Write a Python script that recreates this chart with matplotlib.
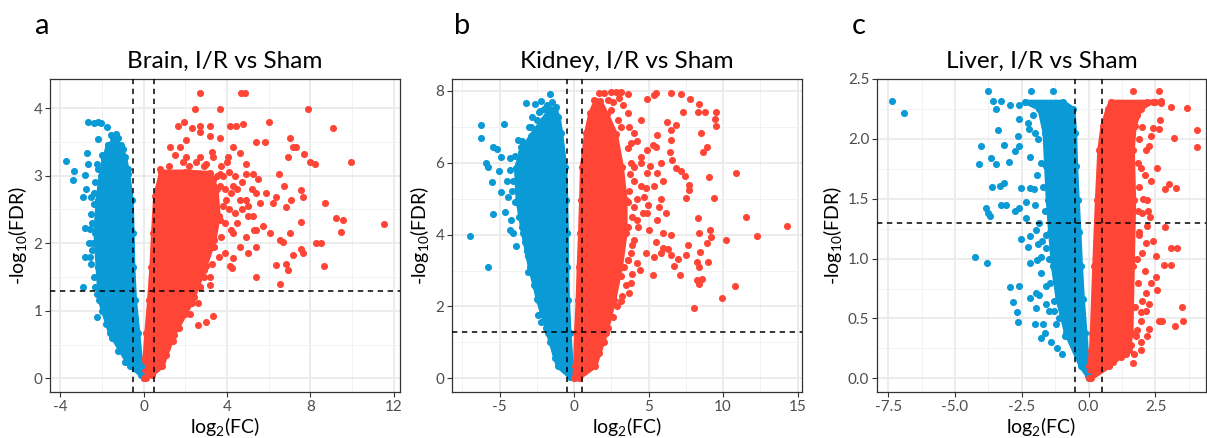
import numpy as np
import matplotlib
matplotlib.use("Agg")
import matplotlib.pyplot as plt
from matplotlib.ticker import FixedLocator

plt.rcParams['font.family'] = ['Lato', 'DejaVu Sans']
plt.rcParams['mathtext.fontset'] = 'custom'
plt.rcParams['mathtext.rm'] = 'Lato'
plt.rcParams['mathtext.default'] = 'regular'
plt.rcParams['axes.unicode_minus'] = False

BLUE = '#0A9AD6'
RED = '#FF4536'

# ---------------- Brain (a) ----------------
# dense cores (outline) + single genes outside
a_blue_env_x = [0.0, -0.1, -0.65, -1.6, -2.1, -2.2, -2.3, -2.2, -2.05, -1.9, -1.7, -1.4,
                -1.1, -0.89, -0.73, -0.57, -0.52, -0.49, -0.41, -0.25, -0.1]
a_blue_env_y = [0.0, 0.05, 0.18, 0.67, 1.16, 1.65, 2.15, 2.64, 3.0, 3.25, 3.45, 3.52,
                3.45, 3.28, 3.03, 2.64, 2.15, 1.65, 1.16, 0.67, 0.18]
a_red_env_x = [0.0, 0.05, 0.14, 0.27, 0.38, 0.46, 0.56, 0.85, 2.0, 3.2, 3.5, 3.6, 3.4,
               2.9, 2.3, 1.45, 0.9, 0.4, 0.1]
a_red_env_y = [0.0, 0.3, 0.67, 1.16, 1.65, 2.15, 2.7, 3.06, 3.06, 3.04, 2.8, 2.4, 2.05,
               1.6, 1.12, 0.64, 0.18, 0.05, 0.0]
a_blue_x = [-3.73, -3.33, -3.4, -2.65, -2.2, -2.36, -2.06, -1.77, -2.17, -1.45, -1.21, -2.73,
            -2.65, -2.25, -2.81, -2.76, -2.9, -2.5, -2.81, -2.57, -2.81, -2.54, -2.92, -2.33,
            -2.15, -2.22, -2.36, -2.5, -2.1,
            -2.4, -2.45, -2.35, -2.25, -2.0, -1.8, -1.5, -1.2, -0.9, -2.3, -2.2, -2.0, -1.7,
            -1.3, -1.0, -0.75, -2.6, -2.5, -1.55, -1.35, -2.35, -2.45]
a_blue_y = [3.22, 3.07, 2.94, 3.8, 3.8, 3.78, 3.78, 3.72, 3.54, 3.55, 3.55, 3.34,
            3.17, 3.18, 3.01, 2.81, 2.68, 2.69, 2.22, 2.21, 1.79, 1.8, 1.35, 1.36,
            1.16, 0.91, 2.58, 2.44, 2.48,
            2.0, 2.3, 1.5, 1.25, 1.0, 0.8, 0.6, 0.4, 0.25, 2.9, 3.1, 3.3, 3.45,
            3.62, 3.4, 3.1, 2.0, 1.7, 3.6, 3.48, 2.75, 1.9]
a_red_x = [2.71, 4.66, 4.85, 2.46, 3.65, 7.86, 1.96, 1.63, 2.3, 2.7, 3.17, 4.13, 4.45, 4.77,
           6.01, 9.1, 7.0, 7.16, 7.32, 5.41, 5.8, 7.67, 6.92, 8.0, 8.2, 9.92, 8.68, 9.2, 9.58,
           9.47, 11.5, 8.28, 8.52, 8.63, 6.52, 5.41, 6.36, 6.84, 6.92, 7.16, 7.56, 7.64, 7.56,
           7.64, 7.56, 7.08, 6.84, 6.5, 6.71, 6.36, 6.2, 5.89, 5.57, 5.41, 5.25, 4.93, 4.9,
           4.61, 4.29, 4.05, 3.65, 3.17, 2.7, 2.06, 1.74, 1.26, 1.5, 2.06, 2.7, 3.33, 3.01,
           4.29, 4.61, 4.93, 5.41, 4.29, 4.13, 4.24, 5.25, 5.01, 6.68, 6.52, 7.0, 4.29, 4.61,
           4.93, 3.97, 3.65, 3.17, 3.0, 3.17, 3.17, 2.7, 2.62, 2.22, 3.33, 3.01, 2.62, 3.65,
           3.65, 3.33, 6.04, 5.73, 5.41,
           3.5, 3.8, 4.1, 4.4, 3.9, 4.2, 4.5, 4.7, 3.8, 4.1, 4.4, 4.7, 5.0, 3.9, 4.2, 4.5,
           3.7, 3.4, 3.6, 3.9, 3.3, 2.9, 2.7, 2.4, 2.0, 1.7, 1.4, 1.1, 5.2, 5.5, 5.3, 5.0,
           2.5, 2.2, 1.2, 0.8, 1.9, 2.9, 3.3, 3.7, 4.0, 2.2, 2.6, 1.0]
a_red_y = [4.23, 4.23, 4.23, 3.98, 3.99, 3.98, 3.8, 3.73, 3.71, 3.73, 3.73, 3.73, 3.73, 3.76,
           3.8, 3.71, 3.55, 3.43, 3.43, 3.5, 3.5, 3.32, 3.27, 3.2, 3.17, 3.2, 2.6, 2.37, 2.34,
           2.16, 2.29, 2.0, 2.01, 1.66, 1.4, 1.5, 1.68, 1.7, 1.6, 1.83, 1.91, 1.85, 2.32,
           2.69, 2.79, 2.64, 2.54, 3.03, 2.85, 2.69, 2.59, 2.74, 2.59, 2.74, 3.03, 3.03, 3.18,
           3.33, 3.43, 3.28, 3.55, 3.58, 3.65, 3.53, 3.43, 3.43, 3.3, 3.28, 3.28, 3.28, 3.18,
           2.15, 1.95, 2.1, 1.95, 1.78, 1.66, 1.64, 2.4, 2.4, 2.02, 2.05, 2.15, 2.84, 2.64,
           2.64, 2.64, 2.34, 1.98, 1.66, 1.5, 1.38, 1.36, 1.11, 0.96, 0.93, 0.83, 0.79, 2.84,
           3.03, 2.94, 2.15, 2.25, 2.2,
           3.0, 3.0, 3.05, 3.0, 2.8, 2.75, 2.8, 2.9, 2.55, 2.5, 2.45, 2.5, 2.55, 2.3, 2.2, 2.3,
           2.1, 1.95, 1.8, 1.85, 1.7, 1.5, 1.35, 1.2, 0.95, 0.75, 0.55, 0.35, 2.8, 2.95, 2.2, 1.85,
           3.2, 3.15, 3.15, 3.1, 3.2, 3.15, 3.35, 3.15, 3.2, 1.3, 1.5, 0.5]

# ---------------- Kidney (b) ----------------
b_blue_env_x = [0.0, -0.3, -1.09, -1.76, -2.43, -2.98, -3.43, -3.8, -3.9, -3.55, -2.9, -2.1,
                -1.6, -1.3, -1.05, -0.87, -0.6, -0.53, -0.49, -0.47, -0.42, -0.31, -0.16]
b_blue_env_y = [0.0, 0.05, 0.33, 1.26, 2.19, 3.11, 4.04, 4.97, 5.85, 6.3, 6.75, 7.2,
                7.5, 7.5, 7.28, 6.82, 5.89, 4.97, 4.04, 3.11, 2.19, 1.26, 0.33]
b_red_env_x = [0.0, 0.07, 0.13, 0.24, 0.31, 0.4, 0.47, 0.53, 0.8, 1.09, 1.45, 1.75, 2.2, 2.8,
               3.2, 3.45, 3.45, 3.15, 2.7, 2.15, 1.4, 0.3]
b_red_env_y = [0.0, 0.33, 1.26, 2.19, 3.11, 4.04, 4.97, 5.89, 6.82, 7.38, 7.72, 7.72, 7.35,
               6.8, 5.89, 4.97, 4.04, 3.11, 2.19, 1.26, 0.33, 0.0]
b_blue_x = [-7.0, -5.81, -6.26, -6.28, -5.92, -5.81, -5.43, -5.21, -5.5, -4.92, -4.7, -5.06,
            -4.88, -5.43, -4.65, -4.43, -4.21, -4.32, -4.1, -3.87, -3.16, -3.2, -2.65, -2.2,
            -1.6, -2.36, -2.8, -2.87, -3.76, -3.54, -4.32, -3.1, -2.43, -2.2, -1.31,
            -4.1, -4.2, -4.0, -3.7, -3.5, -3.3, -3.1, -2.9, -2.7, -2.5, -2.2, -1.9, -1.6, -1.3,
            -4.3, -4.0, -3.5, -3.0, -2.5, -2.0, -1.5, -1.2, -4.5, -3.8, -2.3, -1.8]
b_blue_y = [3.95, 3.11, 7.05, 6.7, 5.99, 5.89, 6.45, 6.38, 5.45, 6.17, 7.07, 5.78,
            5.18, 4.57, 4.62, 5.06, 4.41, 4.13, 4.04, 3.67, 3.53, 7.66, 7.64, 7.72,
            7.9, 7.42, 7.28, 7.0, 6.64, 6.45, 6.13, 2.97, 1.77, 1.58, 0.57,
            5.5, 5.2, 4.9, 4.5, 4.2, 3.8, 3.4, 3.0, 2.6, 2.2, 1.8, 1.4, 1.0, 0.7,
            5.8, 6.2, 6.6, 7.0, 7.2, 7.5, 7.7, 7.55, 5.5, 5.9, 7.45, 7.6]
b_red_x = [1.69, 2.03, 2.47, 2.8, 3.14, 3.59, 4.92, 5.48, 5.37, 6.48, 7.15, 7.75, 8.38, 8.33,
           8.76, 9.54, 9.43, 9.5, 7.33, 6.84, 6.26, 5.59, 5.48, 4.92, 8.53, 8.89, 8.67, 6.48,
           6.53, 6.44, 6.55, 6.82, 7.15, 7.44, 7.71, 7.71, 7.48, 9.04, 10.89, 9.38, 11.56,
           14.28, 12.28, 10.22, 9.22, 9.15, 8.93, 8.38, 8.42, 8.33, 7.66, 7.51, 6.97, 7.11,
           6.7, 6.48, 5.99, 5.81, 5.37, 5.32, 4.41, 3.81, 3.7, 3.14, 8.27, 8.38, 8.27, 8.38,
           8.6, 8.98, 10.82, 9.93, 8.04, 5.97, 5.03, 5.59, 4.92, 5.7, 4.97, 4.7, 5.37, 5.59,
           4.92, 4.48, 4.03, 4.48, 3.81, 4.03, 4.48, 3.59, 3.14, 4.25, 4.03, 3.81, 3.36, 3.14,
           3.59, 4.03, 2.47, 2.25, 1.36, 2.92,
           3.8, 4.0, 4.2, 3.9, 4.3, 4.6, 4.8, 5.1, 5.3, 5.8, 6.0, 5.8, 6.2, 6.5, 6.3, 5.5,
           4.8, 4.2, 3.9, 3.5, 3.2, 2.9, 2.6, 2.3, 2.0, 1.7, 1.3, 3.3, 3.0, 2.6, 3.7, 4.2,
           4.5, 3.9, 3.6, 3.6, 3.7, 3.75, 3.65, 3.6]
b_red_y = [7.93, 7.93, 7.98, 7.98, 7.98, 7.92, 7.77, 7.95, 7.89, 7.95, 7.92, 7.78, 7.64, 7.42,
           7.42, 7.42, 7.21, 7.03, 7.42, 7.05, 7.12, 6.77, 6.45, 6.36, 6.82, 6.45, 6.31, 6.91,
           6.64, 6.31, 6.08, 5.85, 5.76, 5.62, 5.38, 5.25, 5.01, 5.6, 5.71, 5.01, 4.49,
           4.23, 3.97, 3.86, 3.92, 4.13, 3.78, 4.04, 3.51, 4.46, 3.72, 3.43, 3.33, 2.88,
           3.13, 3.44, 3.62, 3.48, 3.39, 2.88, 3.02, 2.65, 2.37, 2.14, 3.25, 3.11, 2.74, 2.63,
           2.76, 3.25, 2.56, 2.23, 1.96, 4.04, 4.13, 4.41, 4.6, 4.78, 4.83, 5.06, 5.34, 5.71,
           5.71, 5.34, 5.89, 6.17, 6.54, 6.82, 7.19, 7.38, 7.0, 4.41, 3.86, 3.48, 3.11, 2.84,
           3.3, 4.78, 7.47, 7.75, 7.75, 7.19,
           6.0, 5.5, 5.0, 4.5, 4.2, 4.6, 5.3, 5.9, 6.5, 6.0, 5.5, 5.0, 4.6, 4.0, 3.6, 3.8,
           3.5, 3.2, 2.9, 2.6, 2.3, 2.0, 1.7, 1.4, 1.0, 0.7, 0.4, 7.6, 7.8, 7.7, 7.0, 6.6,
           6.0, 3.7, 4.2, 3.3, 5.2, 5.7, 6.4, 4.9]

# ---------------- Liver (c) ----------------
c_blue_env_x = [0.0, -0.04, -0.29, -0.85, -1.16, -1.34, -1.44, -1.53, -1.59, -1.65, -1.84,
                -2.4, -0.97, -0.57, -0.51, -0.47, -0.41, -0.35, -0.29, -0.22, -0.12, -0.04]
c_blue_env_y = [0.0, 0.02, 0.1, 0.38, 0.66, 0.94, 1.22, 1.49, 1.77, 2.05, 2.25,
                2.31, 2.31, 2.25, 2.05, 1.77, 1.49, 1.22, 0.94, 0.66, 0.38, 0.1]
c_red_env_x = [0.0, 0.02, 0.09, 0.12, 0.21, 0.31, 0.4, 0.52, 0.71, 0.83, 2.39, 1.95, 1.72,
               1.65, 1.7, 1.65, 1.6, 1.5, 0.77, 0.1]
c_red_env_y = [0.0, 0.1, 0.24, 0.38, 0.94, 1.49, 1.91, 2.11, 2.25, 2.31, 2.31, 2.25, 2.11,
               1.91, 1.49, 0.94, 0.38, 0.24, 0.1, 0.0]
c_blue_x = [-7.35, -6.92, -3.77, -3.58, -3.27, -3.46, -2.96, -2.59, -2.15, -1.34, -3.4, -4.02,
            -4.12, -3.67, -3.46, -2.99, -3.18, -2.77, -2.61, -2.59, -2.28, -2.24, -2.65, -3.61,
            -3.33, -3.18, -3.27, -3.08, -3.86, -3.77, -3.71, -2.77, -2.59, -2.34, -2.52, -2.21,
            -2.03, -2.34, -1.97, -2.52, -2.21, -2.28, -1.9, -2.21, -1.94, -1.59, -1.78, -4.27,
            -3.81, -2.96, -2.59, -2.84, -2.69, -2.63, -2.21, -1.97, -1.97, -1.78, -1.59, -1.59,
            -1.49, -1.72, -1.99, -1.62, -1.79, -1.28, -1.22,
            -1.7, -1.9, -1.8, -1.7, -1.65, -1.6, -1.5, -1.45, -1.3, -1.1, -0.9, -2.1, -2.0,
            -1.95, -2.0, -1.85, -1.75, -2.2, -1.85, -1.4, -1.2, -1.0]
c_blue_y = [2.32, 2.22, 2.4, 2.32, 2.32, 2.25, 2.28, 2.28, 2.4, 2.4, 2.07, 1.94,
            1.79, 1.84, 1.79, 1.81, 1.95, 1.9, 1.94, 2.17, 2.13, 2.08, 2.02, 1.6,
            1.61, 1.63, 1.45, 1.45, 1.42, 1.38, 1.36, 1.4, 1.42, 1.47, 1.59, 1.59,
            1.58, 1.34, 1.24, 1.16, 1.19, 1.1, 1.12, 0.96, 0.99, 1.09, 1.01, 1.01,
            0.96, 0.76, 0.77, 0.64, 0.55, 0.47, 0.67, 0.71, 0.59, 0.88, 0.77, 0.62,
            0.56, 0.45, 0.45, 0.38, 0.34, 0.56, 0.45,
            2.2, 2.0, 1.8, 1.6, 1.4, 1.2, 1.0, 0.8, 0.65, 0.5, 0.35, 2.2, 2.05,
            1.7, 1.45, 1.3, 1.15, 1.85, 0.7, 0.3, 0.25, 0.2]
c_red_x = [1.64, 2.64, 2.7, 3.07, 3.67, 4.07, 4.07, 3.2, 2.33, 2.66, 2.64, 2.57, 2.26, 3.01,
           3.26, 2.86, 2.33, 2.2, 2.23, 2.86, 3.07, 3.32, 2.8, 3.07, 2.51, 2.51, 2.33, 2.57,
           2.14, 2.64, 2.76, 3.23, 3.48, 3.54, 2.26, 2.2, 2.14, 1.95, 1.89, 2.14, 2.2, 2.01,
           1.95, 2.14, 2.39, 1.95, 1.77, 0.9, 0.77, 1.64,
           1.8, 1.9, 1.85, 1.9, 1.85, 1.9, 1.8, 1.85, 1.75, 1.8, 1.6, 2.0, 2.1, 2.05, 2.0,
           2.0, 1.95, 2.2, 2.5, 2.7, 1.7, 1.2, 1.4, 2.3, 2.4, 2.1, 1.95, 2.25]
c_red_y = [2.4, 2.4, 2.32, 2.27, 2.26, 2.07, 1.93, 2.01, 2.02, 2.16, 2.08, 1.76, 1.94, 1.62,
           1.59, 1.58, 1.65, 1.49, 1.4, 1.26, 1.09, 1.09, 0.95, 0.95, 1.02, 0.85, 0.8, 0.74,
           0.71, 0.48, 0.48, 0.44, 0.6, 0.48, 0.41, 0.35, 0.56, 0.48, 1.22, 1.13, 1.27, 1.38,
           1.76, 1.91, 2.09, 0.24, 0.35, 0.14, 0.11, 0.13,
           2.2, 2.0, 1.8, 1.6, 1.4, 1.2, 1.0, 0.8, 0.6, 0.4, 0.28, 2.1, 1.7, 1.5, 1.05,
           0.65, 0.3, 2.31, 2.31, 2.3, 0.2, 0.18, 0.2, 1.35, 1.15, 0.9, 0.55, 0.62]

# axis setup per panel
a_xticks = [-4, 0, 4, 8, 12]
a_xlabels = ['-4', '0', '4', '8', '12']
a_yticks = [0, 1, 2, 3, 4]
a_ylabels = ['0', '1', '2', '3', '4']
b_xticks = [-5, 0, 5, 10, 15]
b_xlabels = ['-5', '0', '5', '10', '15']
b_yticks = [0, 2, 4, 6, 8]
b_ylabels = ['0', '2', '4', '6', '8']
c_xticks = [-7.5, -5.0, -2.5, 0.0, 2.5]
c_xlabels = ['-7.5', '-5.0', '-2.5', '0.0', '2.5']
c_yticks = [0.0, 0.5, 1.0, 1.5, 2.0, 2.5]
c_ylabels = ['0.0', '0.5', '1.0', '1.5', '2.0', '2.5']

fc_cut = 0.5
fdr_cut = -np.log10(0.05)

fig = plt.figure(figsize=(12.07, 4.38), dpi=100)
W, H = 1207, 438
S = 26


def panel(rect, title, letter, letter_x, benv, renv, bpts, rpts,
          xlim, ylim, xt, xl, yt, yl):
    ax = fig.add_axes([rect[0] / W, 1 - rect[3] / H, (rect[2] - rect[0]) / W,
                       (rect[3] - rect[1]) / H])
    ax.set_xlim(xlim)
    ax.set_ylim(ylim)
    ax.set_xticks(xt)
    ax.set_xticklabels(xl)
    ax.set_yticks(yt)
    ax.set_yticklabels(yl)
    step_x = xt[1] - xt[0]
    step_y = yt[1] - yt[0]
    ax.xaxis.set_minor_locator(FixedLocator([v + step_x / 2 for v in [xt[0] - step_x] + xt]))
    ax.yaxis.set_minor_locator(FixedLocator([v + step_y / 2 for v in [yt[0] - step_y] + yt]))
    ax.grid(which='major', color='#EBEBEB', lw=1.3, zorder=0)
    ax.grid(which='minor', color='#F2F2F2', lw=0.7, zorder=0)
    ax.set_axisbelow(True)
    ax.tick_params(which='minor', length=0)
    ax.tick_params(which='major', length=3.5, width=0.8, color='#333333',
                   labelsize=11, labelcolor='#4D4D4D', pad=2)
    for s in ax.spines.values():
        s.set_color('#333333')
        s.set_linewidth(0.9)

    ax.fill(benv[0], benv[1], color=BLUE, lw=3, zorder=2)
    ax.fill(renv[0], renv[1], color=RED, lw=3, zorder=2)
    ax.scatter(benv[0], benv[1], s=S, color=BLUE, lw=0, zorder=3)
    ax.scatter(renv[0], renv[1], s=S, color=RED, lw=0, zorder=3)
    ax.scatter(bpts[0], bpts[1], s=S, color=BLUE, lw=0, zorder=3)
    ax.scatter(rpts[0], rpts[1], s=S, color=RED, lw=0, zorder=3)

    ax.axvline(-fc_cut, color='black', lw=1.1, ls=(0, (3.5, 3)), zorder=4)
    ax.axvline(fc_cut, color='black', lw=1.1, ls=(0, (3.5, 3)), zorder=4)
    ax.axhline(fdr_cut, color='black', lw=1.1, ls=(0, (3.5, 3)), zorder=4)

    ax.set_title(title, fontsize=17.5, pad=8)
    ax.set_xlabel(r'log$_{2}$(FC)', fontsize=14, labelpad=1)
    ax.set_ylabel(r'-log$_{10}$(FDR)', fontsize=14, labelpad=3)
    fig.text(letter_x / W, 1 - 34 / H, letter, fontsize=21, va='baseline')
    return ax


panel((50, 79, 400, 392), 'Brain, I/R vs Sham', 'a', 35,
      (a_blue_env_x, a_blue_env_y), (a_red_env_x, a_red_env_y),
      (a_blue_x, a_blue_y), (a_red_x, a_red_y),
      (-4.48, 12.29), (-0.2, 4.43), a_xticks, a_xlabels, a_yticks, a_ylabels)
panel((452, 79, 802, 392), 'Kidney, I/R vs Sham', 'b', 454,
      (b_blue_env_x, b_blue_env_y), (b_red_env_x, b_red_env_y),
      (b_blue_x, b_blue_y), (b_red_x, b_red_y),
      (-8.2, 15.3), (-0.38, 8.33), b_xticks, b_xlabels, b_yticks, b_ylabels)
panel((877, 79, 1206, 392), 'Liver, I/R vs Sham', 'c', 852,
      (c_blue_env_x, c_blue_env_y), (c_red_env_x, c_red_env_y),
      (c_blue_x, c_blue_y), (c_red_x, c_red_y),
      (-7.92, 4.39), (-0.114, 2.5), c_xticks, c_xlabels, c_yticks, c_ylabels)

fig.savefig('out.png', dpi=100)
